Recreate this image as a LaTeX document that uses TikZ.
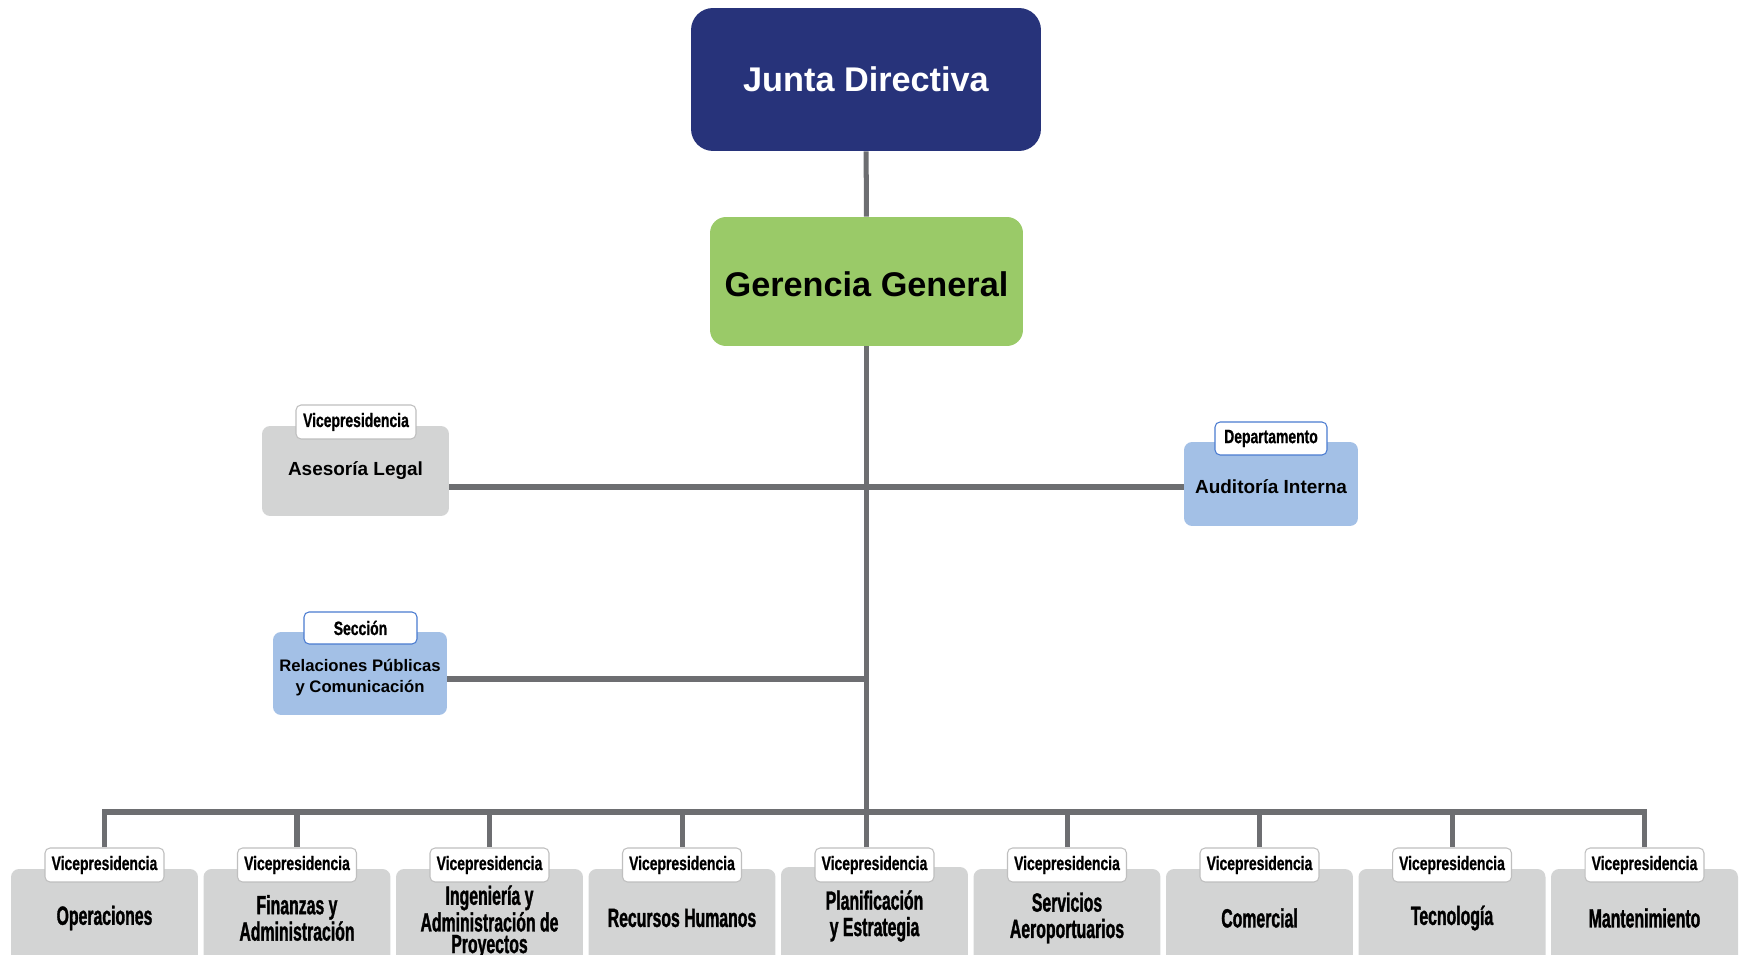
\documentclass[tikz,border=0pt]{standalone}
\usepackage{fontspec}
\setmainfont{Liberation Sans}
\newfontfamily\vpfont[FakeStretch=0.6,FakeBold=1.2]{Liberation Sans}
\newfontfamily\tagfont[FakeStretch=0.72,FakeBold=0.8]{Liberation Sans}
\definecolor{juntablue}{HTML}{27337A}
\definecolor{gerenciagreen}{HTML}{9ACA68}
\definecolor{vpgray}{HTML}{D3D4D4}
\definecolor{unitblue}{HTML}{A3C0E6}
\definecolor{linegray}{HTML}{6D6E71}
\definecolor{tagblue}{HTML}{4A7BD0}
\begin{document}
\begin{tikzpicture}[x=0.02cm, y=-0.02cm,
    box/.style={inner sep=0pt, align=center, rounded corners=0.16cm},
    topbox/.style={box, fill=juntablue, text=white, rounded corners=0.44cm,
      minimum width=7cm, minimum height=2.86cm, font=\bfseries\fontsize{19.5}{22}\selectfont},
    midbox/.style={box, fill=gerenciagreen, rounded corners=0.32cm,
      minimum width=6.26cm, minimum height=2.58cm, font=\bfseries\fontsize{19.5}{22}\selectfont},
    sidebox/.style={box, font=\bfseries\fontsize{10.8}{12.5}\selectfont},
    vpbox/.style={box, fill=vpgray, minimum width=3.74cm, minimum height=1.96cm,
      font=\vpfont\bfseries\fontsize{15}{15}\selectfont},
    tag/.style={box, fill=white, draw=black!25, line width=0.6pt, rounded corners=0.1cm,
      font=\tagfont\bfseries\fontsize{11}{12}\selectfont},
    bluetag/.style={tag, draw=tagblue},
    vptag/.style={tag, minimum width=2.38cm, minimum height=0.68cm},
    conn/.style={draw=linegray, line width=2.85pt}]
  \clip (0,0) rectangle (1741,955);
  \node[topbox] (junta) at (866,79.5) {Junta Directiva};
  \node[midbox, text height=17pt, text depth=0pt] (gerencia) at (866.5,281.5) {Gerencia General};
  \node[sidebox, fill=vpgray, minimum width=3.74cm, minimum height=1.8cm] (asesoria) at (355.5,471) {Asesoría Legal};
  \node[tag, minimum width=2.4cm, minimum height=0.68cm] (tasesoria) at (356,422) {Vicepresidencia};
  \node[sidebox, fill=unitblue, minimum width=3.48cm, minimum height=1.68cm, text height=11.2pt, text depth=0pt] (auditoria) at (1271,484) {Auditoría Interna};
  \node[bluetag, minimum width=2.24cm, minimum height=0.66cm] (tauditoria) at (1271,438.5) {Departamento};
  \node[sidebox, fill=unitblue, minimum width=3.48cm, minimum height=1.66cm, font=\bfseries\fontsize{9.5}{12}\selectfont] (relaciones) at (360,673.5) {\rule{0pt}{11.5pt}Relaciones Públicas\\y Comunicación};
  \node[bluetag, minimum width=2.26cm, minimum height=0.64cm] (trelaciones) at (360.5,628) {Sección};
  \node[vpbox] (operaciones) at (104.5,918) {Operaciones};
  \node[vpbox] (finanzas) at (297,918) {Finanzas y\\Administración};
  \node[vpbox, minimum height=2.12cm, font=\vpfont\bfseries\fontsize{15}{12.3}\selectfont] (ingenieria) at (489.5,922) {Ingeniería y\\Administración de\\Proyectos};
  \node[vpbox] (recursos) at (682,918) {Recursos Humanos};
  \node[vpbox] (planificacion) at (874.5,916) {Planificación\\y Estrategia};
  \node[vpbox] (servicios) at (1067,918) {Servicios\\Aeroportuarios};
  \node[vpbox] (comercial) at (1259.5,918) {Comercial};
  \node[vpbox] (tecnologia) at (1452,918) {Tecnología};
  \node[vpbox] (mantenimiento) at (1644.5,918) {Mantenimiento};
  \node[vptag] (toperaciones) at (104.5,865) {Vicepresidencia};
  \node[vptag] (tfinanzas) at (297,865) {Vicepresidencia};
  \node[vptag] (tingenieria) at (489.5,865) {Vicepresidencia};
  \node[vptag] (trecursos) at (682,865) {Vicepresidencia};
  \node[vptag] (tplanificacion) at (874.5,865) {Vicepresidencia};
  \node[vptag] (tservicios) at (1067,865) {Vicepresidencia};
  \node[vptag] (tcomercial) at (1259.5,865) {Vicepresidencia};
  \node[vptag] (ttecnologia) at (1452,865) {Vicepresidencia};
  \node[vptag] (tmantenimiento) at (1644.5,865) {Vicepresidencia};
  \coordinate (staff) at (866.5,487);
  \coordinate (seccion) at (866.5,679);
  \coordinate (bar) at (866.5,812);
  \draw[conn] (junta) -- (gerencia);
  \draw[conn] (gerencia.south) -- (gerencia.south |- tplanificacion.north);
  \draw[conn] (asesoria.east |- staff) -- (auditoria.west |- staff);
  \draw[conn] (relaciones.east |- seccion) -- (seccion);
  \draw[conn] (toperaciones.north) -- (toperaciones.north |- bar) -- (tmantenimiento.north |- bar) -- (tmantenimiento.north);
  \draw[conn] (tfinanzas.north |- bar) -- (tfinanzas.north);
  \draw[conn] (tingenieria.north |- bar) -- (tingenieria.north);
  \draw[conn] (trecursos.north |- bar) -- (trecursos.north);
  \draw[conn] (tservicios.north |- bar) -- (tservicios.north);
  \draw[conn] (tcomercial.north |- bar) -- (tcomercial.north);
  \draw[conn] (ttecnologia.north |- bar) -- (ttecnologia.north);
\end{tikzpicture}
\end{document}
